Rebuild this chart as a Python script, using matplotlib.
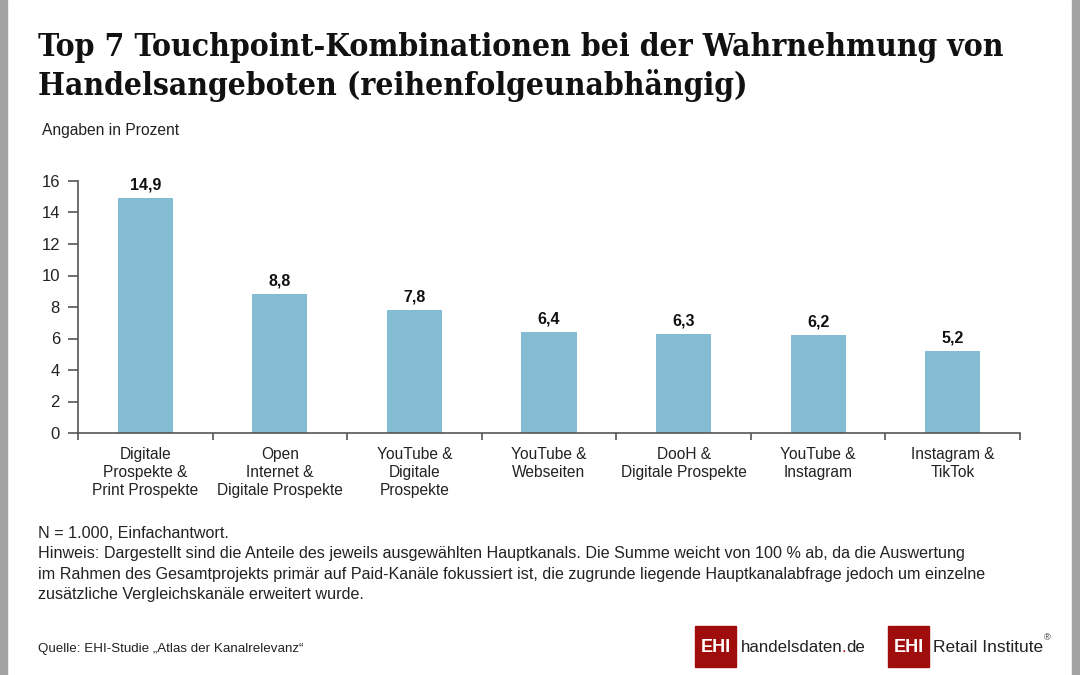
import numpy as np
import matplotlib.pyplot as plt
from matplotlib.patches import Rectangle

categories = ["Digitale\nProspekte &\nPrint Prospekte",
              "Open\nInternet &\nDigitale Prospekte",
              "YouTube &\nDigitale\nProspekte",
              "YouTube &\nWebseiten",
              "DooH &\nDigitale Prospekte",
              "YouTube &\nInstagram",
              "Instagram &\nTikTok"]
values = [14.9, 8.8, 7.8, 6.4, 6.3, 6.2, 5.2]
y_ticks = [0, 2, 4, 6, 8, 10, 12, 14, 16]

title_lines = ["Top 7 Touchpoint-Kombinationen bei der Wahrnehmung von",
               "Handelsangeboten (reihenfolgeunabhängig)"]
note = ("N = 1.000, Einfachantwort.\n"
        "Hinweis: Dargestellt sind die Anteile des jeweils ausgewählten Hauptkanals. Die Summe weicht von 100 % ab, da die Auswertung\n"
        "im Rahmen des Gesamtprojekts primär auf Paid-Kanäle fokussiert ist, die zugrunde liegende Hauptkanalabfrage jedoch um einzelne\n"
        "zusätzliche Vergleichskanäle erweitert wurde.")
source = "Quelle: EHI-Studie „Atlas der Kanalrelevanz“"

bar_color = "#84BDD3"
axis_color = "#555555"
sans = ["Liberation Sans", "DejaVu Sans"]
red = "#A00D0D"

W, H = 1080, 675
fig = plt.figure(figsize=(W / 100, H / 100), dpi=100)
fig.patch.set_facecolor("white")
renderer = fig.canvas.get_renderer()


def fit_text(xp, yp, s, width_px, size, **kw):
    # place text, then rescale font so its width matches the reference
    t = fig.text(xp / W, 1 - yp / H, s, fontsize=size, **kw)
    w = t.get_window_extent(renderer).width
    t.set_fontsize(size * width_px / w)
    return t


# grey frame strips left and right
fig.patches.append(Rectangle((0, 0), 7 / W, 1, transform=fig.transFigure, color="#A3A3A3", zorder=0))
fig.patches.append(Rectangle((1 - 8 / W, 0), 8 / W, 1, transform=fig.transFigure, color="#A3A3A3", zorder=0))

ax = fig.add_axes([78 / W, 1 - 433 / H, (1020 - 78) / W, (433 - 181) / H])
x = np.arange(len(categories))
ax.bar(x, values, width=0.41, color=bar_color, zorder=2)
for xi, v in zip(x, values):
    ax.text(xi, v + 0.35, f"{v:.1f}".replace(".", ","), ha="center", va="bottom",
            fontsize=11.5, fontweight="bold", family=sans, color="#111111")

ax.set_xlim(-0.5, len(categories) - 0.5)
ax.set_ylim(0, 16)
ax.set_yticks(y_ticks)
ax.set_yticklabels([str(t) for t in y_ticks], family=sans, fontsize=12, color="#222222")
ax.set_xticks(x)
ax.set_xticklabels(categories, family=sans, fontsize=11.2, color="#222222", linespacing=1.25)
ax.tick_params(axis="x", length=0, pad=10)
ax.set_xticks(np.arange(len(categories) + 1) - 0.5, minor=True)
ax.tick_params(axis="x", which="minor", length=5, color=axis_color, width=1.2)
ax.tick_params(axis="y", length=7, color=axis_color, width=1.2, pad=6)
for s in ["top", "right"]:
    ax.spines[s].set_visible(False)
for s in ["left", "bottom"]:
    ax.spines[s].set_color(axis_color)
    ax.spines[s].set_linewidth(1.2)

# title, two lines fitted to reference width
t1 = fit_text(38, 56, title_lines[0], 967, 24, ha="left", va="baseline",
              fontweight="bold", fontstretch="condensed", family=["DejaVu Serif"], color="#111111")
fig.text(38 / W, 1 - 95 / H, title_lines[1], fontsize=t1.get_fontsize(), ha="left", va="baseline",
         fontweight="bold", fontstretch="condensed", family=["DejaVu Serif"], color="#111111")

fit_text(42, 131, "Angaben in Prozent", 137, 11, ha="left", va="center",
         family=sans, color="#222222")
fit_text(38, 526, note, 947, 11.5, ha="left", va="top", family=sans,
         color="#222222", linespacing=1.45)
fit_text(38, 649, source, 267, 9.5, ha="left", va="center", family=sans, color="#222222")

# logos
for x0 in [695, 888]:
    fig.patches.append(Rectangle((x0 / W, 1 - 667 / H), 41 / W, 41 / H, transform=fig.transFigure,
                                 color=red, zorder=3))
    fit_text(x0 + 20.5, 648, "EHI", 30, 14, ha="center", va="center",
             fontweight="bold", family=sans, color="white", zorder=4)

h1 = fit_text(741, 648, "handelsdaten", 102, 12.5, ha="left", va="center",
              family=sans, color="#222222", zorder=4)
x_end = 741 + h1.get_window_extent(renderer).width - 1
dot = fig.text(x_end / W, 1 - 648 / H, ".", fontsize=h1.get_fontsize(), ha="left", va="center",
               family=sans, color="#C0141B", zorder=4)
x_end += dot.get_window_extent(renderer).width
fig.text(x_end / W, 1 - 648 / H, "de", fontsize=h1.get_fontsize(), ha="left", va="center",
         family=sans, color="#222222", zorder=4)

r = fit_text(933, 648, "Retail Institute", 110, 12.5, ha="left", va="center",
             family=sans, color="#222222", zorder=4)
r_end = 933 + r.get_window_extent(renderer).width
fig.text((r_end + 1) / W, 1 - 638 / H, "®", ha="left", va="center", fontsize=6.5,
         family=sans, color="#222222")

fig.savefig("out.png", dpi=100, facecolor="white")
